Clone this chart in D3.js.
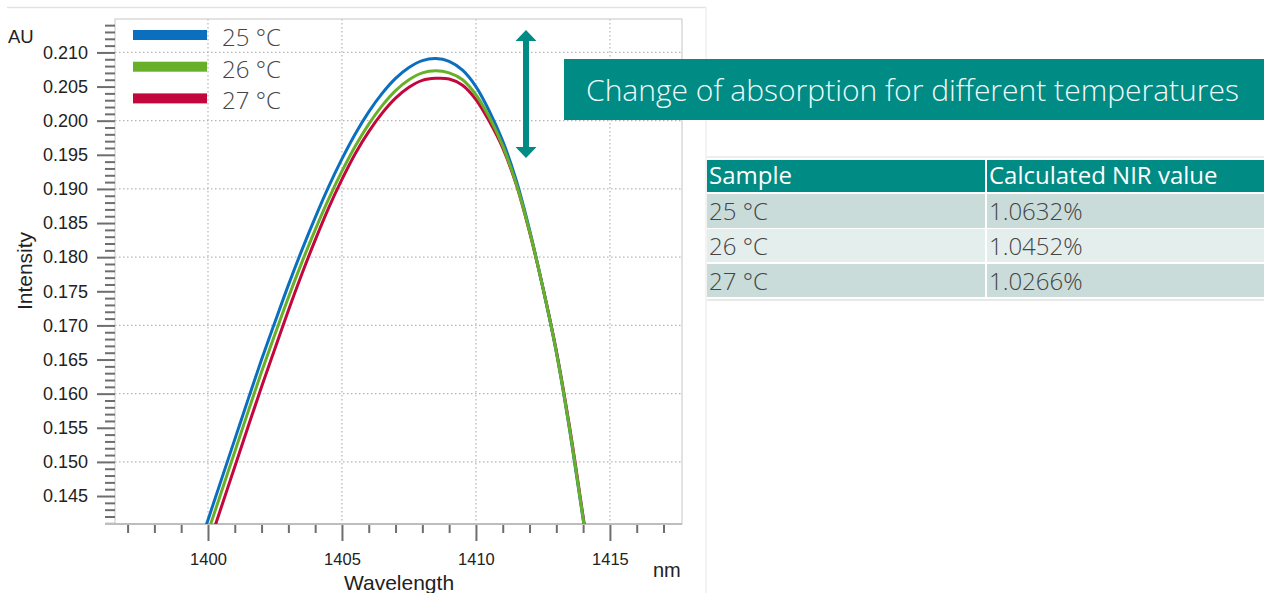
<!DOCTYPE html>
<html>
<head>
<meta charset="utf-8">
<script src="https://cdn.jsdelivr.net/npm/d3@7"></script>
<style>
  html, body { margin: 0; padding: 0; background: #fff; }
  svg { display: block; }
</style>
</head>
<body>
<svg id="chart"></svg>
<script>
// wavelength grid (nm) and intensities
var wavelengths = [1399.5, 1400, 1400.5, 1401, 1401.5, 1402, 1402.5, 1403, 1403.5, 1404, 1404.5,
  1405, 1405.5, 1406, 1406.5, 1407, 1407.5, 1408, 1408.5, 1409, 1409.5, 1410, 1410.5,
  1411, 1411.5, 1412, 1412.5, 1413, 1413.5, 1414, 1414.5];

var temp25 = [0.1356, 0.1415, 0.1474, 0.1533, 0.1592, 0.1650, 0.1705, 0.1759, 0.1810, 0.1858, 0.1903,
  0.1944, 0.1981, 0.2013, 0.2040, 0.2062, 0.2078, 0.2088, 0.2091, 0.2087, 0.2074, 0.2050, 0.2014,
  0.1970, 0.1913, 0.1840, 0.1755, 0.1661, 0.1546, 0.1416, 0.1286];

var temp26 = [0.1338, 0.1397, 0.1456, 0.1515, 0.1574, 0.1632, 0.1687, 0.1741, 0.1792, 0.1840, 0.1885,
  0.1926, 0.1963, 0.1995, 0.2022, 0.2044, 0.2060, 0.2070, 0.2073, 0.2070, 0.2060, 0.2038, 0.2005,
  0.1963, 0.1908, 0.1838, 0.1755, 0.1661, 0.1547, 0.1417, 0.1287];

var temp27 = [0.1316, 0.1375, 0.1434, 0.1493, 0.1552, 0.1610, 0.1666, 0.1722, 0.1775, 0.1825, 0.1872,
  0.1914, 0.1952, 0.1984, 0.2011, 0.2033, 0.2049, 0.2059, 0.2062, 0.2061, 0.2052, 0.2031, 0.1999,
  0.1960, 0.1907, 0.1837, 0.1755, 0.1663, 0.1550, 0.1420, 0.1290];

var seriesNames = ["25 °C", "26 °C", "27 °C"];
var seriesColors = ["#0b6fbf", "#69b02a", "#c1073b"];

var xTicks = [1400, 1405, 1410, 1415];
var xMinorTicks = [1397, 1398, 1399, 1401, 1402, 1403, 1404, 1406, 1407, 1408, 1409,
  1411, 1412, 1413, 1414, 1416, 1417];
var yTicks = [0.145, 0.150, 0.155, 0.160, 0.165, 0.170, 0.175, 0.180, 0.185, 0.190,
  0.195, 0.200, 0.205, 0.210];
var yGrid = [0.150, 0.160, 0.170, 0.180, 0.190, 0.200, 0.210];

var tableHeader = ["Sample", "Calculated NIR value"];
var tableSamples = ["25 °C", "26 °C", "27 °C"];
var tableValues = ["1.0632%", "1.0452%", "1.0266%"];

var bannerText = "Change of absorption for different temperatures";

var teal = "#008b85";
var width = 1264, height = 593;
var plot = { left: 115, top: 19, right: 682, bottom: 524 };

var svg = d3.select("#chart")
  .attr("width", width)
  .attr("height", height);

// light panel border
svg.append("line")
  .attr("x1", 7).attr("x2", 706).attr("y1", 7.5).attr("y2", 7.5)
  .attr("stroke", "#e2e2e2").attr("stroke-width", 1.5);
svg.append("line")
  .attr("x1", 706).attr("x2", 706).attr("y1", 7).attr("y2", height)
  .attr("stroke", "#efefef").attr("stroke-width", 1.5);

var xScale = d3.scaleLinear()
  .domain([1396.53, 1417.69])
  .range([plot.left, plot.right]);

var yScale = d3.scaleLinear()
  .domain([0.1409, 0.2149])
  .range([plot.bottom, plot.top]);

// minor y ticks every 0.001
var yMinor = d3.range(141, 215).map(d => d / 1000).filter(d => yTicks.indexOf(d) < 0);

// grid
var grid = svg.append("g").attr("class", "grid");
grid.selectAll("line.gx")
  .data(xTicks)
  .join("line")
  .attr("class", "gx")
  .attr("x1", d => xScale(d)).attr("x2", d => xScale(d))
  .attr("y1", plot.top).attr("y2", plot.bottom)
  .attr("stroke", "#b5b5b5").attr("stroke-width", 1.2)
  .attr("stroke-dasharray", "1.5,2.5");
grid.selectAll("line.gy")
  .data(yGrid)
  .join("line")
  .attr("class", "gy")
  .attr("x1", plot.left).attr("x2", plot.right)
  .attr("y1", d => yScale(d)).attr("y2", d => yScale(d))
  .attr("stroke", "#b5b5b5").attr("stroke-width", 1.2)
  .attr("stroke-dasharray", "1.5,2.5");

// plot frame
svg.append("rect")
  .attr("x", plot.left).attr("y", plot.top)
  .attr("width", plot.right - plot.left).attr("height", plot.bottom - plot.top)
  .attr("fill", "none").attr("stroke", "#cfcfcf").attr("stroke-width", 1.2);

// y axis
var yAxisMajor = d3.axisLeft(yScale)
  .tickValues(yTicks)
  .tickSize(18)
  .tickPadding(9)
  .tickFormat(d3.format(".3f"));
var yAxisMinor = d3.axisLeft(yScale)
  .tickValues(yMinor)
  .tickSize(10)
  .tickFormat("");

var yMinorG = svg.append("g")
  .attr("transform", "translate(" + plot.left + ",0)")
  .call(yAxisMinor);
var yMajorG = svg.append("g")
  .attr("transform", "translate(" + plot.left + ",0)")
  .call(yAxisMajor);

// x axis
var xAxisMajor = d3.axisBottom(xScale)
  .tickValues(xTicks)
  .tickSize(17)
  .tickPadding(12)
  .tickFormat(d3.format("d"));
var xAxisMinor = d3.axisBottom(xScale)
  .tickValues(xMinorTicks)
  .tickSize(9)
  .tickFormat("");

var xMinorG = svg.append("g")
  .attr("transform", "translate(0," + plot.bottom + ")")
  .call(xAxisMinor);
var xMajorG = svg.append("g")
  .attr("transform", "translate(0," + plot.bottom + ")")
  .call(xAxisMajor);

[yMinorG, yMajorG, xMinorG, xMajorG].forEach(g => {
  g.select(".domain").remove();
  g.selectAll(".tick line").attr("stroke", "#6e6e6e").attr("stroke-width", 2);
  g.selectAll(".tick text")
    .attr("fill", "#222")
    .style("font-family", "'Liberation Sans', Arial, sans-serif");
});
yMajorG.selectAll(".tick text").style("font-size", "18px");
xMajorG.selectAll(".tick text").style("font-size", "16.5px");

// bottom axis line running under the y ticks
svg.append("line")
  .attr("x1", 105).attr("x2", plot.right)
  .attr("y1", plot.bottom).attr("y2", plot.bottom)
  .attr("stroke", "#bdbdbd").attr("stroke-width", 2);

// axis titles
var axisFont = "'Liberation Sans', Arial, sans-serif";
svg.append("text")
  .attr("x", 8).attr("y", 43)
  .text("AU")
  .style("font-family", axisFont).style("font-size", "18.5px").attr("fill", "#222");
svg.append("text")
  .attr("transform", "translate(32,271) rotate(-90)")
  .attr("text-anchor", "middle")
  .text("Intensity")
  .style("font-family", axisFont).style("font-size", "21px").attr("fill", "#222");
svg.append("text")
  .attr("x", 399).attr("y", 590)
  .attr("text-anchor", "middle")
  .text("Wavelength")
  .style("font-family", axisFont).style("font-size", "21px").attr("fill", "#222");
svg.append("text")
  .attr("x", 653).attr("y", 577)
  .text("nm")
  .style("font-family", axisFont).style("font-size", "20px").attr("fill", "#222");

// curves
svg.append("clipPath").attr("id", "plotClip")
  .append("rect")
  .attr("x", plot.left).attr("y", plot.top)
  .attr("width", plot.right - plot.left).attr("height", plot.bottom - plot.top);

var series = [temp25, temp26, temp27].map((vals, i) => ({
  name: seriesNames[i],
  color: seriesColors[i],
  points: wavelengths.map((w, j) => ({ w: w, v: vals[j] }))
}));

var lineGenerator = d3.line()
  .x(d => xScale(d.w))
  .y(d => yScale(d.v))
  .curve(d3.curveCatmullRom.alpha(0.5));

// draw order: red, blue, then green on top
svg.append("g")
  .attr("clip-path", "url(#plotClip)")
  .selectAll("path")
  .data([series[2], series[0], series[1]])
  .join("path")
  .attr("d", d => lineGenerator(d.points))
  .attr("fill", "none")
  .attr("stroke", d => d.color)
  .attr("stroke-width", 3)
  .attr("stroke-linejoin", "round");

// legend
var legendFont = "'Open Sans', 'Noto Sans', sans-serif";
var legend = svg.append("g");
series.forEach((s, i) => {
  var cy = 35 + i * 31.7;
  legend.append("rect")
    .attr("x", 133).attr("y", cy - 5)
    .attr("width", 74).attr("height", 10)
    .attr("fill", s.color);
  legend.append("text")
    .attr("x", 222).attr("y", cy + 11)
    .text(s.name)
    .style("font-family", legendFont).style("font-size", "24px")
    .style("font-weight", 300)
    .attr("fill", "#444");
});

// double arrow
var ax = 526, aTop = 30, aBot = 158;
svg.append("path")
  .attr("d", "M" + ax + "," + aTop +
    " L" + (ax + 10.5) + "," + (aTop + 11) +
    " L" + (ax + 3) + "," + (aTop + 11) +
    " L" + (ax + 3) + "," + (aBot - 11) +
    " L" + (ax + 10.5) + "," + (aBot - 11) +
    " L" + ax + "," + aBot +
    " L" + (ax - 10.5) + "," + (aBot - 11) +
    " L" + (ax - 3) + "," + (aBot - 11) +
    " L" + (ax - 3) + "," + (aTop + 11) +
    " L" + (ax - 10.5) + "," + (aTop + 11) + " Z")
  .attr("fill", teal);

// banner
svg.append("rect")
  .attr("x", 564).attr("y", 59)
  .attr("width", width - 564).attr("height", 61)
  .attr("fill", teal);
svg.append("text")
  .attr("x", 586).attr("y", 101)
  .attr("textLength", 653)
  .attr("lengthAdjust", "spacingAndGlyphs")
  .text(bannerText)
  .style("font-family", legendFont).style("font-size", "30px")
  .style("font-weight", 300)
  .attr("fill", "#f2faf9");

// table
var tX = [707, 987], tW = [278, 277];
var rowsY = [160, 194, 229, 264], rowsH = [32, 34, 33, 33];
var rowFill = ["#cadcd9", "#e4eeec", "#cadcd9"];
var table = svg.append("g");

table.append("line")
  .attr("x1", 707).attr("x2", width).attr("y1", 157).attr("y2", 157)
  .attr("stroke", "#e8e8e8").attr("stroke-width", 1.5);
table.append("line")
  .attr("x1", 707).attr("x2", width).attr("y1", 300).attr("y2", 300)
  .attr("stroke", "#e0e0e0").attr("stroke-width", 1.5);

tableHeader.forEach((h, c) => {
  table.append("rect")
    .attr("x", tX[c]).attr("y", rowsY[0])
    .attr("width", tW[c]).attr("height", rowsH[0])
    .attr("fill", teal);
  table.append("text")
    .attr("x", tX[c] + 2).attr("y", rowsY[0] + 24)
    .text(h)
    .style("font-family", legendFont).style("font-size", "24px")
    .attr("fill", "#ffffff");
});

tableSamples.forEach((s, r) => {
  var cells = [s, tableValues[r]];
  cells.forEach((txt, c) => {
    table.append("rect")
      .attr("x", tX[c]).attr("y", rowsY[r + 1])
      .attr("width", tW[c]).attr("height", rowsH[r + 1])
      .attr("fill", rowFill[r]);
    table.append("text")
      .attr("x", tX[c] + 2).attr("y", rowsY[r + 1] + rowsH[r + 1] / 2 + 9)
      .text(txt)
      .style("font-family", legendFont).style("font-size", "24px")
      .style("font-weight", 300)
      .attr("fill", "#444");
  });
});
</script>
</body>
</html>
